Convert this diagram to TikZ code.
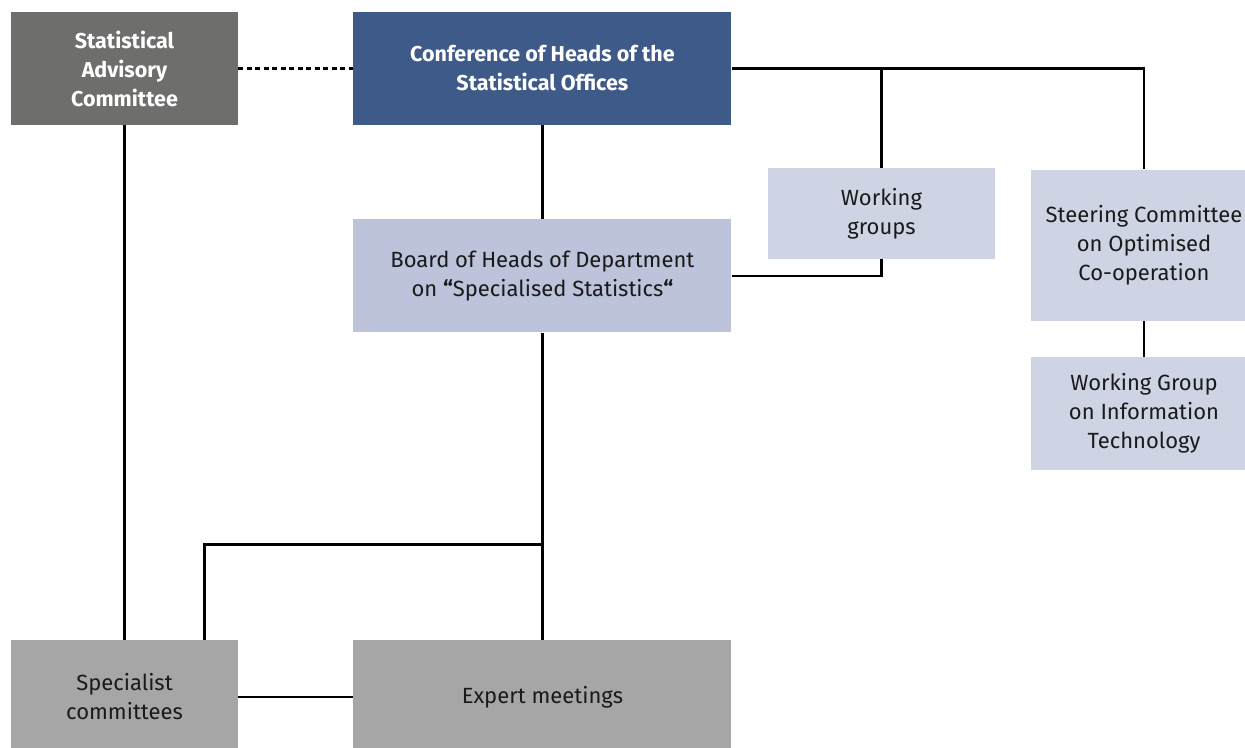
\documentclass[tikz,border=0pt]{standalone}
\usepackage{fontspec}
\setmainfont{Fira Sans}
\usetikzlibrary{positioning}
\definecolor{sacgray}{HTML}{6E6E6C}
\definecolor{confblue}{HTML}{3E5A89}
\definecolor{boardblue}{HTML}{BCC3DA}
\definecolor{paleblue}{HTML}{CFD4E4}
\definecolor{midgray}{HTML}{A6A6A6}
\definecolor{txtdark}{HTML}{1A1A1A}
\tikzstyle{box}=[rectangle,align=center,inner sep=2pt,text=txtdark,
  font=\fontsize{22}{29}\selectfont]
\tikzstyle{ln}=[line width=2.6pt]

\begin{document}
\begin{tikzpicture}[x=1pt,y=-1pt]
    \useasboundingbox (0,0) rectangle (1245,747);
    \tikzstyle{small}=[box,minimum width=227pt,minimum height=113pt]
    \tikzstyle{wide}=[box,minimum width=378pt,minimum height=113pt]
    \node[small,fill=sacgray,text=white,font=\fontsize{21.5}{29}\selectfont\bfseries]
      (sac) at (124.5,68.5) {Statistical\\Advisory\\Committee};
    \node[wide,fill=confblue,text=white,font=\fontsize{21.5}{29}\selectfont\bfseries,
      right=115pt of sac] (conf) {Conference of Heads of the\\Statistical Offices};
    \node[wide,fill=boardblue,below=94pt of conf] (board)
      {Board of Heads of Department\\on \textbf{“}Specialised Statistics\textbf{“}};
    \node[small,fill=paleblue,minimum height=91pt] (wg) at (881.5,213.5)
      {Working\\groups};
    \node[small,fill=paleblue,minimum height=151pt] (steer) at (1144,245)
      {Steering Committee\\on Optimised\\Co-operation};
    \node[small,fill=paleblue,below=36pt of steer] (wgit)
      {Working Group\\on Information\\Technology};
    \node[small,fill=midgray,below=515pt of sac] (spec) {Specialist\\committees};
    \node[wide,fill=midgray,right=115pt of spec] (expert) {Expert meetings};
    %
    \coordinate[below=212pt of board.south] (fork);

    \draw[line width=2.6pt,dash pattern=on 5pt off 3.5pt] (sac) -- (conf);
    \draw[ln] (sac) -- (spec);
    \draw[ln] (conf) -- (board);
    \draw[ln] (conf.east) -| (steer.north);
    \draw[ln] (conf.east -| wg.north) -- (wg.north);
    \draw[ln] (board.east) -| (wg.south);
    \draw[ln] (steer) -- (wgit);
    \draw[ln] (board) -- (expert);
    \draw[ln] (fork) -| ([xshift=-34pt]spec.north east);
    \draw[ln] (spec) -- (expert);
\end{tikzpicture}
\end{document}
